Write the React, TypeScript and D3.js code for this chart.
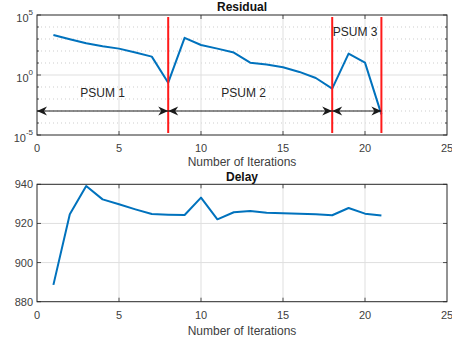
import React from 'react';
import * as d3 from 'd3';

const iterations = [1, 2, 3, 4, 5, 6, 7, 8, 9, 10, 11, 12, 13, 14, 15, 16, 17, 18, 19, 20, 21];
const residual = [2140, 955, 437, 251, 158, 74, 34, 0.23, 1260, 316, 158, 74, 10.7, 7.4, 4.4, 1.8, 0.56, 0.074, 60, 10.7, 0.00052];
const delay = [888.6, 924.7, 939.1, 932.3, 929.8, 927.2, 924.8, 924.5, 924.3, 933.2, 922.1, 925.7, 926.4, 925.5, 925.2, 925.0, 924.7, 924.2, 927.9, 925.0, 924.0];

const xTicks = [0, 5, 10, 15, 20, 25];
const resMajorTicks = [1e-5, 1e0, 1e5];
const resMinorTicks = [1e-4, 1e-3, 1e-2, 1e-1, 1e1, 1e2, 1e3, 1e4];
const resTickExps = [-5, 0, 5];
const delayTicks = [880, 900, 920, 940];

const psumBounds = [8, 18, 21];
const psumArrows = [
  { from: 0, to: 8 },
  { from: 8, to: 18 },
  { from: 18, to: 21 },
];
const psumLabels = [
  { text: 'PSUM 1', x: 4.0, y: 0.03 },
  { text: 'PSUM 2', x: 12.6, y: 0.03 },
  { text: 'PSUM 3', x: 19.4, y: 4000 },
];
const arrowLevel = 1e-3;

const W = 452;
const H = 341;
const L = 37;
const R = 447;
const T1 = 15;
const B1 = 135;
const T2 = 184.3;
const B2 = 301.7;

const FONT = 'Liberation Sans, Arial, Helvetica, sans-serif';
const TXT = '#404040';
const AX = '#262626';
const GRID = '#dfdfdf';
const BLUE = '#0072BD';

function arrowHead(tipX: number, y: number, dir: number) {
  const len = 10;
  const hw = 4.5;
  const notch = 3;
  const bx = tipX - dir * len;
  return `M${tipX},${y} L${bx},${y - hw} L${bx + dir * notch},${y} L${bx},${y + hw} Z`;
}

export default function App() {
  const x = d3.scaleLinear().domain([0, 25]).range([L, R]);
  const yR = d3.scaleLog().domain([1e-5, 1e5]).range([B1, T1]);
  const yD = d3.scaleLinear().domain([880, 940]).range([B2, T2]);

  const resLine = d3
    .line<number>()
    .x((_, i) => x(iterations[i]))
    .y((d) => yR(d));
  const delayLine = d3
    .line<number>()
    .x((_, i) => x(iterations[i]))
    .y((d) => yD(d));

  const innerX = xTicks.filter((t) => t > 0 && t < 25);
  const ay = yR(arrowLevel);

  return (
    <svg
      width={W}
      height={H}
      style={{ position: 'absolute', left: 0, top: 0, background: '#fff' }}
      fontFamily={FONT}
    >
      <rect x={0} y={0} width={W} height={H} fill="#fff" />

      {/* ===== Residual ===== */}
      <g>
        {resMinorTicks.map((t) => (
          <line
            key={'mn' + t}
            x1={L}
            x2={R}
            y1={yR(t)}
            y2={yR(t)}
            stroke="#c0c0c0"
            strokeWidth={0.8}
            strokeDasharray="1,3"
          />
        ))}
        {innerX.map((t) => (
          <line key={'gx' + t} x1={x(t)} x2={x(t)} y1={T1} y2={B1} stroke={GRID} strokeWidth={1} />
        ))}
        <line x1={L} x2={R} y1={yR(1)} y2={yR(1)} stroke={GRID} strokeWidth={1} />

        {innerX.map((t) => (
          <g key={'tx' + t}>
            <line x1={x(t)} x2={x(t)} y1={B1} y2={B1 - 4} stroke={AX} strokeWidth={0.8} />
            <line x1={x(t)} x2={x(t)} y1={T1} y2={T1 + 4} stroke={AX} strokeWidth={0.8} />
          </g>
        ))}
        {resMajorTicks.map((t) => (
          <g key={'ty' + t}>
            <line x1={L} x2={L + 4} y1={yR(t)} y2={yR(t)} stroke={AX} strokeWidth={0.8} />
            <line x1={R} x2={R - 4} y1={yR(t)} y2={yR(t)} stroke={AX} strokeWidth={0.8} />
          </g>
        ))}
        {resMinorTicks.map((t) => (
          <g key={'tym' + t}>
            <line x1={L} x2={L + 2} y1={yR(t)} y2={yR(t)} stroke={AX} strokeWidth={0.8} />
            <line x1={R} x2={R - 2} y1={yR(t)} y2={yR(t)} stroke={AX} strokeWidth={0.8} />
          </g>
        ))}

        <path d={resLine(residual) || ''} fill="none" stroke={BLUE} strokeWidth={2} strokeLinejoin="round" />

        {psumBounds.map((b) => (
          <line key={'pb' + b} x1={x(b)} x2={x(b)} y1={T1 + 2} y2={B1 - 2} stroke="#ff1a1a" strokeWidth={2} />
        ))}

        {psumArrows.map((a, i) => (
          <g key={'ar' + i}>
            <line x1={x(a.from)} x2={x(a.to)} y1={ay} y2={ay} stroke="#1a1a1a" strokeWidth={1} />
            <path d={arrowHead(x(a.from), ay, -1)} fill="#1a1a1a" />
            <path d={arrowHead(x(a.to), ay, 1)} fill="#1a1a1a" />
          </g>
        ))}
        {psumLabels.map((p) => (
          <text
            key={p.text}
            x={x(p.x)}
            y={yR(p.y)}
            textAnchor="middle"
            dominantBaseline="central"
            fontSize={12}
            fill="#262626"
          >
            {p.text}
          </text>
        ))}

        <rect x={L} y={T1} width={R - L} height={B1 - T1} fill="none" stroke={AX} strokeWidth={1} />

        {xTicks.map((t) => (
          <text key={'lx' + t} x={x(t)} y={147.5} textAnchor="middle" dominantBaseline="central" fontSize={11} fill={TXT}>
            {t}
          </text>
        ))}
        {resMajorTicks.map((t, i) => (
          <text key={'ly' + t} x={L - 4} y={yR(t) + 3} textAnchor="end" dominantBaseline="central" fontSize={11} fill={TXT}>
            10
            <tspan dy={-6} fontSize={8}>
              {resTickExps[i]}
            </tspan>
          </text>
        ))}
        <text x={(L + R) / 2} y={162} textAnchor="middle" dominantBaseline="central" fontSize={12} fill={TXT}>
          Number of Iterations
        </text>
        <text x={(L + R) / 2} y={7} textAnchor="middle" dominantBaseline="central" fontSize={12} fontWeight="bold" fill="#111">
          Residual
        </text>
      </g>

      {/* ===== Delay ===== */}
      <g>
        {innerX.map((t) => (
          <line key={'gx2' + t} x1={x(t)} x2={x(t)} y1={T2} y2={B2} stroke={GRID} strokeWidth={1} />
        ))}
        {delayTicks
          .filter((t) => t > 880 && t < 940)
          .map((t) => (
            <line key={'gy2' + t} x1={L} x2={R} y1={yD(t)} y2={yD(t)} stroke={GRID} strokeWidth={1} />
          ))}
        {innerX.map((t) => (
          <g key={'tx2' + t}>
            <line x1={x(t)} x2={x(t)} y1={B2} y2={B2 - 4} stroke={AX} strokeWidth={0.8} />
            <line x1={x(t)} x2={x(t)} y1={T2} y2={T2 + 4} stroke={AX} strokeWidth={0.8} />
          </g>
        ))}
        {delayTicks.map((t) => (
          <g key={'ty2' + t}>
            <line x1={L} x2={L + 4} y1={yD(t)} y2={yD(t)} stroke={AX} strokeWidth={0.8} />
            <line x1={R} x2={R - 4} y1={yD(t)} y2={yD(t)} stroke={AX} strokeWidth={0.8} />
          </g>
        ))}

        <path d={delayLine(delay) || ''} fill="none" stroke={BLUE} strokeWidth={2} strokeLinejoin="round" />

        <rect x={L} y={T2} width={R - L} height={B2 - T2} fill="none" stroke={AX} strokeWidth={1} />

        {xTicks.map((t) => (
          <text key={'lx2' + t} x={x(t)} y={315} textAnchor="middle" dominantBaseline="central" fontSize={11} fill={TXT}>
            {t}
          </text>
        ))}
        {delayTicks.map((t) => (
          <text key={'ly2' + t} x={L - 4} y={yD(t)} textAnchor="end" dominantBaseline="central" fontSize={11} fill={TXT}>
            {t}
          </text>
        ))}
        <text x={(L + R) / 2} y={330.5} textAnchor="middle" dominantBaseline="central" fontSize={12} fill={TXT}>
          Number of Iterations
        </text>
        <text x={(L + R) / 2} y={176.5} textAnchor="middle" dominantBaseline="central" fontSize={12} fontWeight="bold" fill="#111">
          Delay
        </text>
      </g>
    </svg>
  );
}
